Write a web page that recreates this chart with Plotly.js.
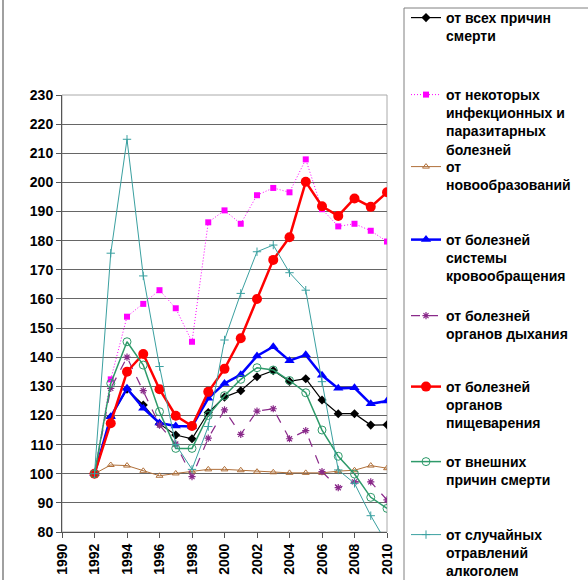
<!DOCTYPE html>
<html>
<head>
<meta charset="utf-8">
<script src="https://cdn.plot.ly/plotly-3.0.1.min.js"></script>
<style>html,body{margin:0;padding:0;background:#fff;}#chart{width:588px;height:580px;}</style>
</head>
<body>
<div id="chart"></div>
<script>
var years = [1992,1993,1994,1995,1996,1997,1998,1999,2000,2001,2002,2003,2004,2005,2006,2007,2008,2009,2010];

var allCauses   = [100,119.4,129,123.6,117.1,113.3,112,121,126.3,128.5,133.3,135.4,131.7,132.6,125.3,120.6,120.6,116.7,116.8];
var infectious  = [100,132.4,153.9,158.3,163,156.8,145.3,186.3,190.4,185.8,195.6,198.1,196.6,207.9,190.8,184.9,185.8,183.4,179.7];
var neoplasms   = [100,103,102.8,101,99.3,100.1,100.8,101.5,101.5,101.2,100.7,100.5,100.3,100.3,100.3,100.9,101.2,102.8,101.9];
var circulatory = [100,119.6,129.3,122.5,117.4,116.4,116.2,125.9,131,134,140.4,143.6,138.8,140.8,133.8,129.3,129.5,124,125];
var respiratory = [100,129.3,140,128.5,116.7,110.2,99,112.2,121.9,113.5,121.5,122.3,112,114.8,100.7,95.2,97.2,97.2,91];
var digestive   = [100,117.3,135,141.1,129,119.9,116.4,128.1,136,146.5,160,173.4,181.2,200.2,191.8,188.5,194.5,191.6,196.6];
var external    = [100,131,145.3,137.3,121.3,108.7,108.7,120,126.8,132.4,136.4,135.6,132,127.8,115,106,99.9,91.9,88.1];
var alcohol     = [100,175.7,214.8,167.9,136.8,110,101.5,116.2,145.9,161.9,176.2,178.5,169,163,131.6,101.3,96.7,85.6,76];

var seriesNames = [
  'от всех причин<br>смерти',
  'от некоторых<br>инфекционных и<br>паразитарных<br>болезней',
  'от<br>новообразований',
  'от болезней<br>системы<br>кровообращения',
  'от болезней<br>органов дыхания',
  'от болезней<br>органов<br>пищеварения',
  'от внешних<br>причин смерти',
  'от случайных<br>отравлений<br>алкоголем'
];

var xTickVals = [1990,1992,1994,1996,1998,2000,2002,2004,2006,2008,2010];
var yTickVals = [80,90,100,110,120,130,140,150,160,170,180,190,200,210,220,230];

// layout helpers (pixel -> paper)
var PL = 62, PR = 387, PT = 95, PB = 532;
function px(x){ return (x - PL) / (PR - PL); }
function py(y){ return (PB - y) / (PB - PT); }

var styles = [
  {line:{color:'#000000', width:1.2}, marker:{symbol:'diamond', size:7, color:'#000000'}},
  {line:{color:'#ff00ff', width:1, dash:'1px,2px'}, marker:{symbol:'square', size:6, color:'#ff00ff'}},
  {line:{color:'#b0703a', width:1}, marker:{symbol:'triangle-up-open', size:6, color:'#b0703a'}},
  {line:{color:'#0000ff', width:2.5}, marker:{symbol:'triangle-up', size:9, color:'#0000ff'}},
  {line:{color:'#8a2a8a', width:1.2, dash:'dash'}, marker:{symbol:'asterisk-open', size:6, color:'#8a2a8a', line:{width:1.2, color:'#8a2a8a'}}},
  {line:{color:'#ff0000', width:2.5}, marker:{symbol:'circle', size:10, color:'#ff0000'}},
  {line:{color:'#2e9a6a', width:1.5}, marker:{symbol:'circle-open', size:8, color:'#2e9a6a'}},
  {line:{color:'#3aa0a0', width:1}, marker:{symbol:'cross-thin-open', size:6, color:'#3aa0a0', line:{width:1, color:'#3aa0a0'}}}
];
var values = [allCauses, infectious, neoplasms, circulatory, respiratory, digestive, external, alcohol];
var legendIds = ['legend','legend2','legend3','legend4','legend5','legend6','legend7','legend8'];
var legendCenters = [18, 95, 167, 240, 316, 387, 462, 535];

var traces = values.map(function(v, i){
  var s = styles[i];
  return {
    x: years, y: v, type:'scatter', mode:'lines+markers',
    name: seriesNames[i], line: s.line, marker: s.marker,
    legend: legendIds[i], cliponaxis: true, showlegend: true
  };
});

var layout = {
  width: 588, height: 580,
  showlegend: true,
  margin: {l: PL, r: 588 - PR, t: PT, b: 580 - PB, autoexpand: false},
  paper_bgcolor: '#ffffff', plot_bgcolor: '#ffffff',
  font: {family: 'Liberation Sans, Arial, sans-serif', size: 14, color: '#000'},
  xaxis: {
    range: [1990, 2010], tickvals: xTickVals, ticks: 'outside', ticklen: 5, tickcolor: '#555',
    tickangle: -90, tickfont: {size: 14, weight: 'bold'}, showgrid: false, zeroline: false,
    showline: true, linecolor: '#555', linewidth: 1
  },
  yaxis: {
    range: [80, 230], tickvals: yTickVals, ticks: 'outside', ticklen: 5, tickcolor: '#555',
    tickfont: {size: 14, weight: 'bold'}, showgrid: true, gridcolor: '#666', gridwidth: 1,
    zeroline: false, showline: true, linecolor: '#555', linewidth: 1
  },
  shapes: [
    {type:'rect', xref:'paper', yref:'paper', x0:0, x1:1, y0:0, y1:1, line:{color:'#aaaaaa', width:1}, layer:'below'},
    {type:'rect', xref:'paper', yref:'paper', x0:px(404), x1:px(640), y0:py(640), y1:py(8), line:{color:'#808080', width:1}},
    {type:'line', xref:'paper', yref:'paper', x0:px(3), x1:px(3), y0:py(640), y1:py(-10), line:{color:'#808080', width:1.5}}
  ]
};

legendIds.forEach(function(id, i){
  layout[id] = {
    x: px(406), xanchor: 'left', y: py(legendCenters[i] - 16), yanchor: 'top',
    bgcolor: 'rgba(0,0,0,0)', borderwidth: 0, valign: 'top', visible: true,
    font: {size: 14, weight: 'bold', color: '#000'}
  };
});

Plotly.newPlot('chart', traces, layout, {displayModeBar: false, staticPlot: true});
</script>
</body>
</html>
